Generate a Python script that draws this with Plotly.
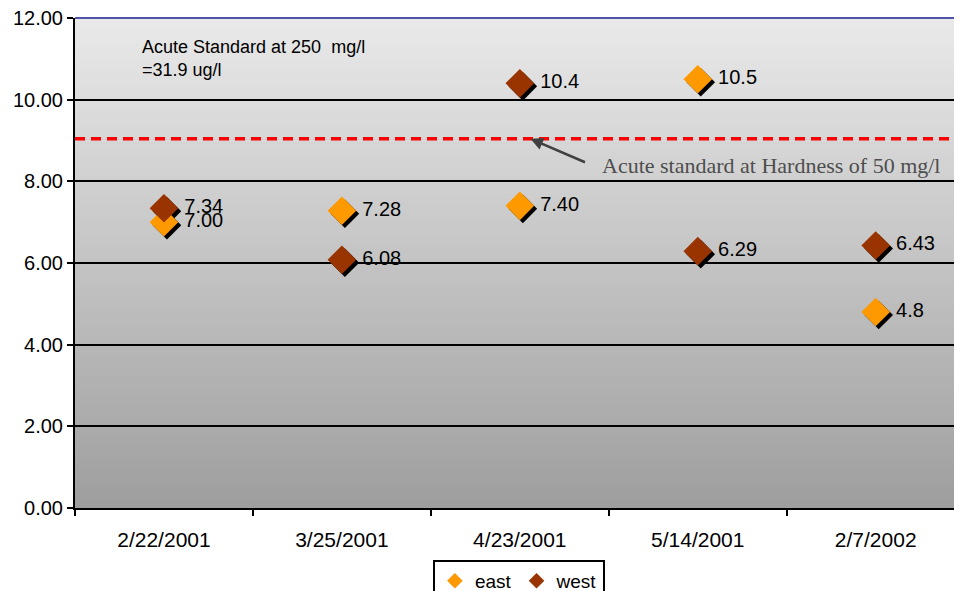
import plotly.graph_objects as go

# Sample dates and measured values (ug/l)
dates = ['2/22/2001', '3/25/2001', '4/23/2001', '5/14/2001', '2/7/2002']
east = [7.00, 7.28, 7.40, 10.5, 4.8]
west = [7.34, 6.08, 10.4, 6.29, 6.43]
east_labels = ['7.00', '7.28', '7.40', '10.5', '4.8']
west_labels = ['7.34', '6.08', '10.4', '6.29', '6.43']
acute_standard = 9.04
y_ticks = [0, 2, 4, 6, 8, 10, 12]

EAST_COLOR = '#FF9900'
WEST_COLOR = '#993300'
FONT = 'Liberation Sans, Arial, sans-serif'

# plot area is 879 px wide at 178 px per category (last one clipped), 490 px tall
x_range = [-0.5, 4.44]
y_range = [0, 12]
dx = 3 / 178.0   # shadow offset, 3 px right
dy = 3 / 40.83   # shadow offset, 3 px down

fig = go.Figure()

# invisible trace so the main axes (ticks, grid) are drawn
fig.add_trace(go.Scatter(x=dates, y=east, mode='none', showlegend=False, hoverinfo='skip'))

# drop shadows on an overlaid, shifted pair of axes
for vals in (east, west):
    fig.add_trace(go.Scatter(
        x=dates, y=vals, mode='markers',
        marker=dict(symbol='diamond', size=22, color='black', line=dict(width=0)),
        xaxis='x2', yaxis='y2', showlegend=False, hoverinfo='skip'
    ))

# the real markers on top
for name, vals, labels, color in (('east', east, east_labels, EAST_COLOR),
                                  ('west', west, west_labels, WEST_COLOR)):
    fig.add_trace(go.Scatter(
        x=dates, y=vals, name=name, mode='markers+text',
        text=labels, texttemplate=' %{text}', textposition='middle right',
        textfont=dict(family=FONT, size=20, color='black'),
        marker=dict(symbol='diamond', size=22, color=color, line=dict(width=0)),
        xaxis='x3', yaxis='y3'
    ))

# gradient background, light at top to darker at bottom
shapes = []
n_bands = 98
for i in range(n_bands):
    t = i / (n_bands - 1)
    g = int(round(158 + (233 - 158) * t))
    shapes.append(dict(
        type='rect', xref='x domain', yref='y domain',
        x0=0, x1=1, y0=i / n_bands, y1=(i + 1) / n_bands + 0.002,
        fillcolor=f'rgb({g},{g},{g})', line=dict(width=0), layer='below'
    ))

# acute standard line
shapes.append(dict(
    type='line', xref='x domain', yref='y', x0=0, x1=1,
    y0=acute_standard, y1=acute_standard,
    line=dict(color='#FF0000', width=3.5, dash='10px,6px')
))
# top border
shapes.append(dict(
    type='line', xref='x domain', yref='y domain', x0=0, x1=1, y0=1, y1=1,
    line=dict(color='#1F1F8F', width=1.5)
))

hidden = dict(type='category', categoryorder='array', categoryarray=dates, visible=False)

fig.update_layout(
    width=954, height=591,
    margin=dict(l=75, r=0, t=18, b=83, autoexpand=False),
    paper_bgcolor='white',
    plot_bgcolor='#c8c8c8',
    font=dict(family=FONT, size=20, color='black'),
    shapes=shapes,
    showlegend=True,
    legend=dict(
        orientation='h', x=0.505, xanchor='center', y=-0.106, yanchor='top',
        bordercolor='black', borderwidth=2, bgcolor='white',
        font=dict(family=FONT, size=19), itemsizing='constant',
        itemwidth=30, tracegroupgap=0
    ),
    xaxis=dict(
        type='category', categoryorder='array', categoryarray=dates,
        range=x_range, showgrid=False, zeroline=False, automargin=False,
        showline=True, linecolor='black', linewidth=2,
        ticks='outside', tickson='boundaries', ticklen=6, tickwidth=2, tickcolor='black',
        tickfont=dict(family=FONT, size=21), ticklabelstandoff=12
    ),
    yaxis=dict(
        range=y_range, tickvals=y_ticks, tickformat='.2f', automargin=False,
        ticklabeloverflow='allow',
        showgrid=True, gridcolor='black', gridwidth=2, zeroline=False,
        showline=True, linecolor='black', linewidth=2,
        ticks='outside', ticklen=6, tickwidth=2, tickcolor='black',
        tickfont=dict(family=FONT, size=20)
    ),
    xaxis2=dict(hidden, range=[x_range[0] - dx, x_range[1] - dx], overlaying='x'),
    yaxis2=dict(range=[y_range[0] + dy, y_range[1] + dy], overlaying='y', visible=False),
    xaxis3=dict(hidden, range=x_range, overlaying='x'),
    yaxis3=dict(range=y_range, overlaying='y', visible=False),
    annotations=[
        dict(
            text='Acute Standard at 250  mg/l<br>=31.9 ug/l',
            xref='paper', yref='y', x=0.074, y=11.0, xanchor='left', yanchor='middle',
            align='left', showarrow=False,
            font=dict(family=FONT, size=18, color='black')
        ),
        dict(
            text='Acute standard at Hardness of 50 mg/l',
            xref='paper', yref='y', x=0.597, y=8.38,
            xanchor='left', yanchor='middle', showarrow=False,
            font=dict(family='Liberation Serif, Times New Roman, serif', size=22, color='#4D4D4D')
        ),
    ],
)

# arrow pointing at the standard line
fig.add_annotation(
    xref='x', yref='y', x=2.06, y=acute_standard,
    ax=56, ay=24, showarrow=True, arrowhead=2, arrowsize=1, arrowwidth=2.5,
    arrowcolor='#404040', text='', standoff=0
)

# drop the default page margin so the figure sits at the window's corner
fig.write_html(
    'out.html',
    config={'displayModeBar': False},
    post_script="document.body.style.margin='0';document.body.style.overflow='hidden';"
)
